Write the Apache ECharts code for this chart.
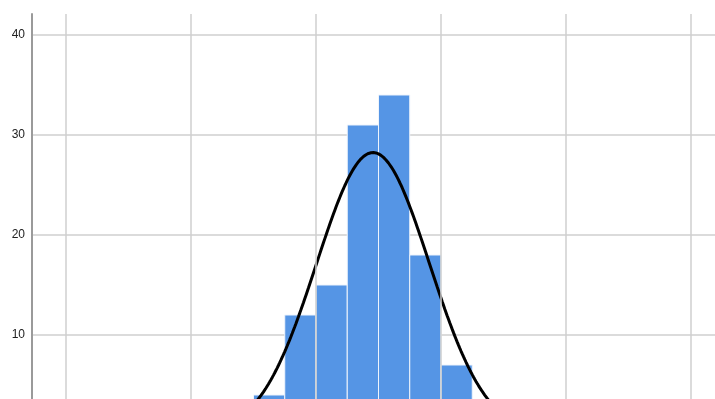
<!DOCTYPE html>
<html>
<head>
<meta charset="utf-8">
<script src="https://cdn.jsdelivr.net/npm/echarts@6/dist/echarts.min.js"></script>
<style>
  html, body { margin: 0; padding: 0; background: #fff; overflow: hidden; }
  /* the baseline of the frequency axis sits below the visible window */
  #chart { width: 715px; height: 435px; }
</style>
</head>
<body>
<div id="chart"></div>
<script>
// Histogram bins: lower edge, upper edge, frequency
const binStarts = [2.25, 2.5, 2.75, 3.0, 3.25, 3.5, 3.75, 4.0, 4.25, 4.5];
const binWidth = 0.25;
const counts = [3, 4, 12, 15, 31, 34, 18, 7, 3, 1];

// Vertical reference lines on the x scale
const xGridValues = [1, 2, 3, 4, 5, 6];

// Fitted normal distribution parameters
const fitMean = 3.456;
const fitSd = 0.452;

// y axis ticks
const yTicks = [0, 10, 20, 30, 40];

const n = counts.reduce((a, b) => a + b, 0);
const binData = binStarts.map((s, i) => [s, s + binWidth, counts[i]]);

const curve = [];
for (let x = 1.8; x <= 5.1; x += 0.01) {
  const z = (x - fitMean) / fitSd;
  const y = n * binWidth * Math.exp(-0.5 * z * z) / (fitSd * Math.sqrt(2 * Math.PI));
  curve.push([x, y]);
}

const chart = echarts.init(document.getElementById('chart'), null, { renderer: 'canvas' });
chart.setOption({
  animation: false,
  backgroundColor: '#ffffff',
  grid: { left: 32, right: 0, top: 14, bottom: 0, containLabel: false },
  xAxis: {
    type: 'value',
    min: 0.728,
    max: 6.192,
    show: false,
    splitLine: { show: false }
  },
  yAxis: {
    type: 'value',
    min: yTicks[0],
    max: 42.1,
    interval: 10,
    axisLine: { show: true, lineStyle: { color: '#9a9a9a', width: 2 } },
    axisTick: { show: false },
    axisLabel: {
      color: '#222',
      fontSize: 12,
      fontFamily: 'Liberation Sans, Arial, sans-serif',
      margin: 7,
      showMaxLabel: false,
      formatter: v => (v === 0 ? '' : String(v))
    },
    splitLine: { show: true, showMaxLine: false, lineStyle: { color: '#cfcfcf', width: 1.5 } }
  },
  series: [
    {
      type: 'line',
      data: [],
      silent: true,
      markLine: {
        silent: true,
        symbol: 'none',
        label: { show: false },
        lineStyle: { color: '#cfcfcf', width: 1.5, type: 'solid' },
        data: xGridValues.map(v => ({ xAxis: v }))
      },
      z: 1
    },
    {
      type: 'custom',
      data: binData,
      z: 2,
      renderItem: function (params, api) {
        const p0 = api.coord([api.value(0), api.value(2)]);
        const p1 = api.coord([api.value(1), 0]);
        return {
          type: 'rect',
          shape: { x: p0[0], y: p0[1], width: p1[0] - p0[0], height: p1[1] - p0[1] },
          style: { fill: '#5595e5', stroke: '#eef4fc', lineWidth: 1 }
        };
      }
    },
    {
      type: 'line',
      data: curve,
      showSymbol: false,
      smooth: false,
      z: 3,
      lineStyle: { color: '#000', width: 3 }
    }
  ]
});
</script>
</body>
</html>
